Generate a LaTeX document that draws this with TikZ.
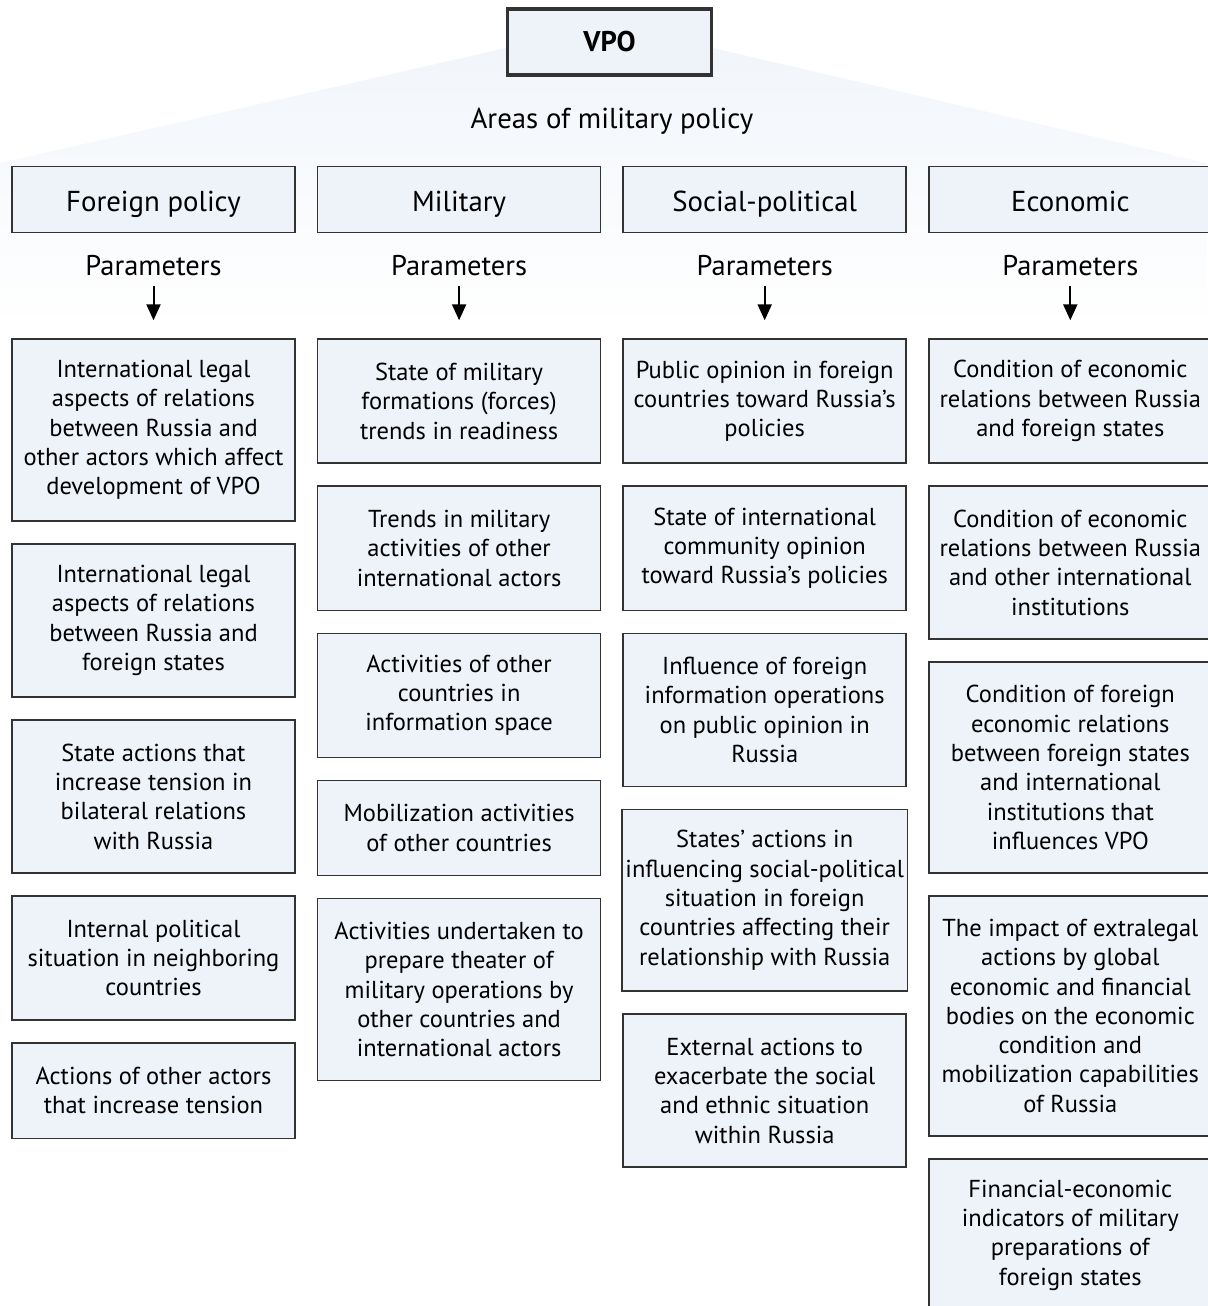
\documentclass[tikz,border=0pt]{standalone}
\usepackage{fontspec}
\setmainfont{PT Sans}
\usepackage{xcolor}
\usetikzlibrary{shapes,arrows.meta,positioning}

\definecolor{boxfill}{HTML}{EEF3FA}
\definecolor{boxline}{HTML}{333333}

\begin{document}
\begin{tikzpicture}[x=1pt, y=-1pt, node distance=21.4pt,
  vpobox/.style={draw=boxline, line width=3.5pt, fill=boxfill, minimum width=204pt, minimum height=66pt, font=\fontsize{28.5}{32}\selectfont\bfseries},
  areabox/.style={draw=boxline, line width=1.6pt, fill=boxfill, minimum width=283pt, minimum height=66pt, text height=25pt, text depth=2pt, font=\fontsize{28.8}{32}\selectfont},
  areatext/.style={inner sep=0pt, font=\fontsize{28.8}{32}\selectfont},
  partext/.style={inner sep=0pt, font=\fontsize{28.5}{32}\selectfont},
  parambox/.style={draw=boxline, line width=1.6pt, fill=boxfill, minimum width=283pt, inner ysep=2pt, align=center, minimum height={37.4pt+28.9pt*#1}, font=\fontsize{24.5}{29.3}\selectfont},
  paramarrow/.style={line width=2pt, -{Triangle[length=16pt, width=14pt]}, shorten <=10pt, shorten >=18pt}]
\useasboundingbox (0,0) rectangle (1207,1306);

% fan behind the top
\shade[top color=boxfill!80, bottom color=white] (506,48) -- (713,48) -- (1207,163) -- (1207,330) -- (0,330) -- (0,163) -- cycle;

\node[vpobox] (vpo) at (609.5,42) {VPO};
\node[areatext] (areas) at (612,121) {Areas of military policy};

% areas
\node[areabox] (fp) at (153.5,199.5) {Foreign policy};
\node[areabox, right=21pt of fp] (mil) {Military};
\node[areabox, right=21pt of mil] (soc) {Social-political};
\node[areabox, right=21pt of soc] (eco) {Economic};

\node[partext, below=22pt of fp] (fppar) {Parameters};
\node[partext, below=22pt of mil] (milpar) {Parameters};
\node[partext, below=22pt of soc] (socpar) {Parameters};
\node[partext, below=22pt of eco] (ecopar) {Parameters};

% foreign policy
\node[parambox=5, below=105pt of fp] (fp1) {International legal\\aspects of relations\\between Russia and\\other actors which affect\\development of VPO};
\node[parambox=4, below=of fp1] (fp2) {International legal\\aspects of relations\\between Russia and\\foreign states};
\node[parambox=4, below=of fp2] (fp3) {State actions that\\increase tension in\\bilateral relations\\with Russia};
\node[parambox=3, below=of fp3] (fp4) {Internal political\\situation in neighboring\\countries};
\node[parambox=2, below=of fp4] (fp5) {Actions of other actors\\that increase tension};

% military
\node[parambox=3, below=105pt of mil] (mil1) {State of military\\formations (forces)\\trends in readiness};
\node[parambox=3, below=of mil1] (mil2) {Trends in military\\activities of other\\international actors};
\node[parambox=3, below=of mil2] (mil3) {Activities of other\\countries in\\information space};
\node[parambox=2, below=of mil3] (mil4) {Mobilization activities\\of other countries};
\node[parambox=5, below=of mil4] (mil5) {Activities undertaken to\\prepare theater of\\military operations by\\other countries and\\international actors};

% social-political
\node[parambox=3, below=105pt of soc] (soc1) {Public opinion in foreign\\countries toward Russia’s\\policies};
\node[parambox=3, below=of soc1] (soc2) {State of international\\community opinion\\toward Russia’s policies};
\node[parambox=4, below=of soc2] (soc3) {Influence of foreign\\information operations\\on public opinion in\\Russia};
\node[parambox=5, below=of soc3] (soc4) {States’ actions in\\influencing social-political\\situation in foreign\\countries affecting their\\relationship with Russia};
\node[parambox=4, below=of soc4] (soc5) {External actions to\\exacerbate the social\\and ethnic situation\\within Russia};

% economic
\node[parambox=3, below=105pt of eco] (eco1) {Condition of economic\\relations between Russia\\and foreign states};
\node[parambox=4, below=of eco1] (eco2) {Condition of economic\\relations between Russia\\and other international\\institutions};
\node[parambox=6, below=of eco2] (eco3) {Condition of foreign\\economic relations\\between foreign states\\and international\\institutions that\\influences VPO};
\node[parambox=7, below=of eco3] (eco4) {The impact of extralegal\\actions by global\\economic and financial\\bodies on the economic\\condition and\\mobilization capabilities\\of Russia};
\node[parambox=4, below=of eco4] (eco5) {Financial-economic\\indicators of military\\preparations of\\foreign states};

\draw[paramarrow] (fppar) -- (fp1);
\draw[paramarrow] (milpar) -- (mil1);
\draw[paramarrow] (socpar) -- (soc1);
\draw[paramarrow] (ecopar) -- (eco1);
\end{tikzpicture}
\end{document}
